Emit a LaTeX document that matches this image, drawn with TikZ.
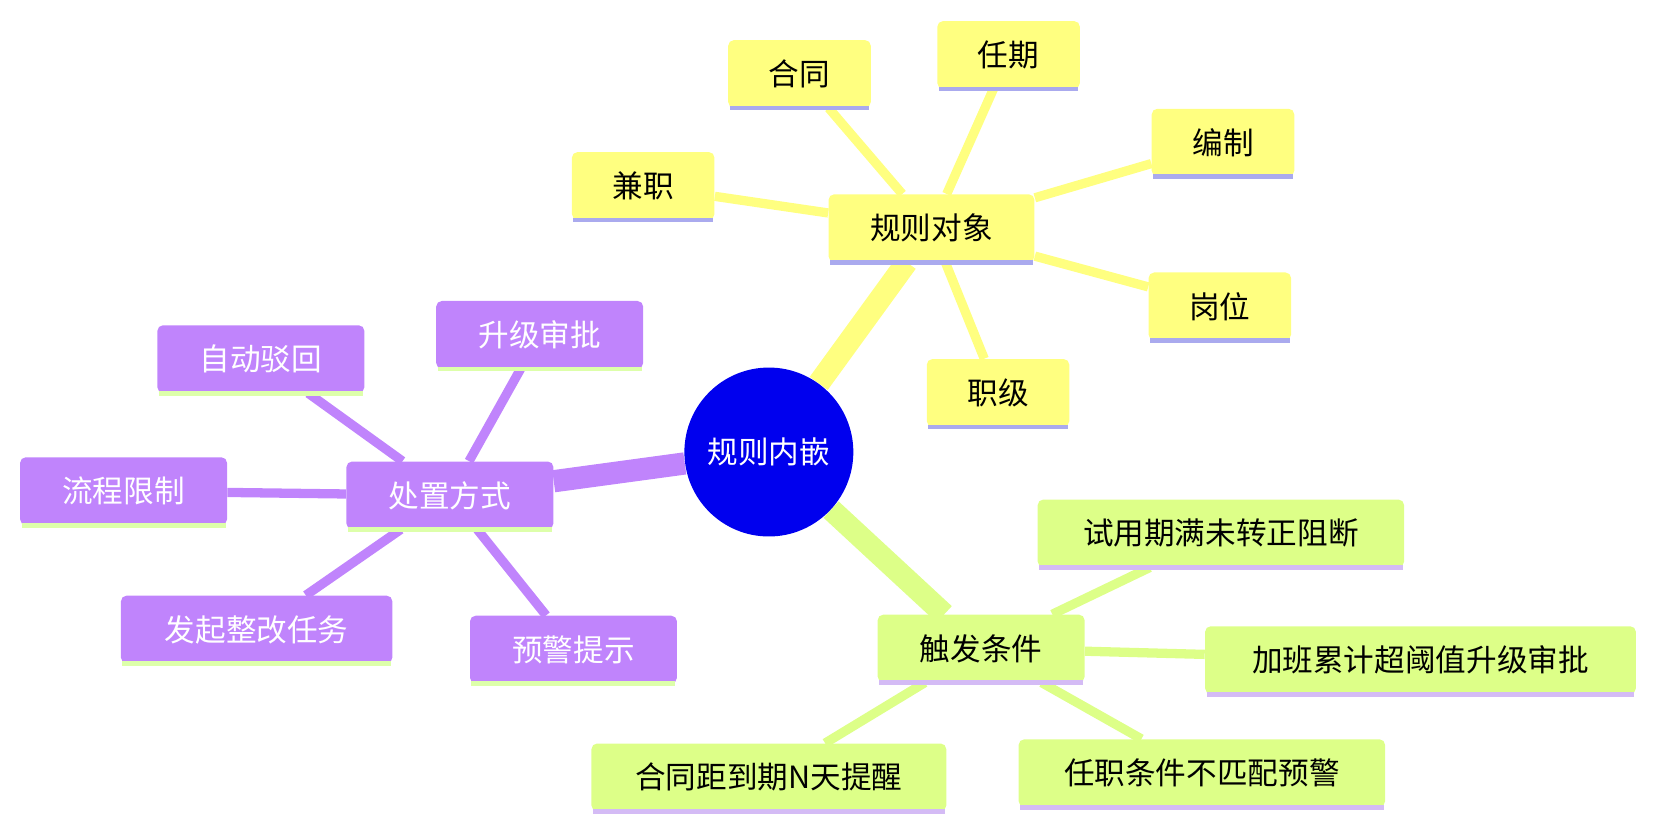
\documentclass[tikz,border=0pt]{standalone}
\usepackage{fontspec}
\setmainfont{Noto Sans CJK SC}
\usetikzlibrary{backgrounds}
\definecolor{rootblue}{HTML}{0000EE}
\definecolor{objyellow}{HTML}{FFFF80}
\definecolor{actpurple}{HTML}{C084FC}
\definecolor{trigreen}{HTML}{DDFF88}
\definecolor{lavline}{HTML}{AAAAEE}
\definecolor{grnline}{HTML}{DDFFAA}
\definecolor{purline}{HTML}{D4BBF5}
\tikzset{
  x=0.02cm, y=-0.02cm,
  leaf/.style={rectangle, rounded corners=3pt, minimum height=1.28cm, inner xsep=8pt,
    font=\fontsize{16.5}{20}\selectfont},
  objbox/.style={leaf, fill=objyellow, minimum width=2.7cm},
  actbox/.style={leaf, fill=actpurple, text=white, minimum width=3.92cm},
  tribox/.style={leaf, fill=trigreen, minimum width=3.92cm},
  trunk/.style={line width=12pt},
  twig/.style={line width=5pt},
}
\begin{document}
\begin{tikzpicture}
  % root
  \node (root) [circle, fill=rootblue, text=white, minimum size=3.2cm,
    font=\fontsize{16.5}{20}\selectfont] at (728,428) {规则内嵌};
  % rule objects
  \node (obj) [objbox, minimum width=3.9cm] at (882,216) {规则对象};
  \node (ht) [objbox] at (757,70) {合同};
  \node (rq) [objbox] at (955,52) {任期};
  \node (bz) [objbox] at (1158,135) {编制};
  \node (jz) [objbox] at (609,176) {兼职};
  \node (gw) [objbox] at (1155,290) {岗位};
  \node (zj) [objbox] at (945,372) {职级};
  % actions
  \node (act) [actbox] at (426,469) {处置方式};
  \node (sj) [actbox] at (511,317) {升级审批};
  \node (zd) [actbox] at (247,340) {自动驳回};
  \node (lc) [actbox] at (117,465) {流程限制};
  \node (fq) [actbox, minimum width=5.14cm] at (243,596) {发起整改任务};
  \node (yj) [actbox] at (543,615) {预警提示};
  % triggers
  \node (tri) [tribox] at (929,614) {触发条件};
  \node (sy) [tribox, minimum width=6.94cm] at (1156,505) {试用期满未转正阻断};
  \node (jb) [tribox, minimum width=8.16cm] at (1345,625) {加班累计超阈值升级审批};
  \node (dq) [tribox, minimum width=6.72cm] at (728,736) {合同距到期N天提醒};
  \node (rz) [tribox, minimum width=6.94cm] at (1138,732) {任职条件不匹配预警};
  % bottom lines
  \foreach \n in {obj,ht,rq,bz,jz,gw,zj}
    \draw [lavline, line width=2.5pt] ([xshift=1pt]\n.south west) -- ([xshift=-1pt]\n.south east);
  \foreach \n in {act,sj,zd,lc,fq,yj}
    \draw [grnline, line width=2.5pt] ([xshift=1pt]\n.south west) -- ([xshift=-1pt]\n.south east);
  \foreach \n in {tri,sy,jb,dq,rz}
    \draw [purline, line width=2.5pt] ([xshift=1pt]\n.south west) -- ([xshift=-1pt]\n.south east);
  % connections
  \begin{scope}[on background layer]
    \draw [trunk, objyellow] (root) -- (obj);
    \draw [trunk, actpurple] (root) -- (act);
    \draw [trunk, trigreen] (root) -- (tri);
    \foreach \n in {ht,rq,bz,jz,gw,zj}
      \draw [twig, objyellow] (obj) -- (\n);
    \foreach \n in {sj,zd,lc,fq,yj}
      \draw [twig, actpurple] (act) -- (\n);
    \foreach \n in {sy,jb,dq,rz}
      \draw [twig, trigreen] (tri) -- (\n);
  \end{scope}
  \pgfresetboundingbox
  \useasboundingbox (0,0) rectangle (1568,786);
\end{tikzpicture}
\end{document}
